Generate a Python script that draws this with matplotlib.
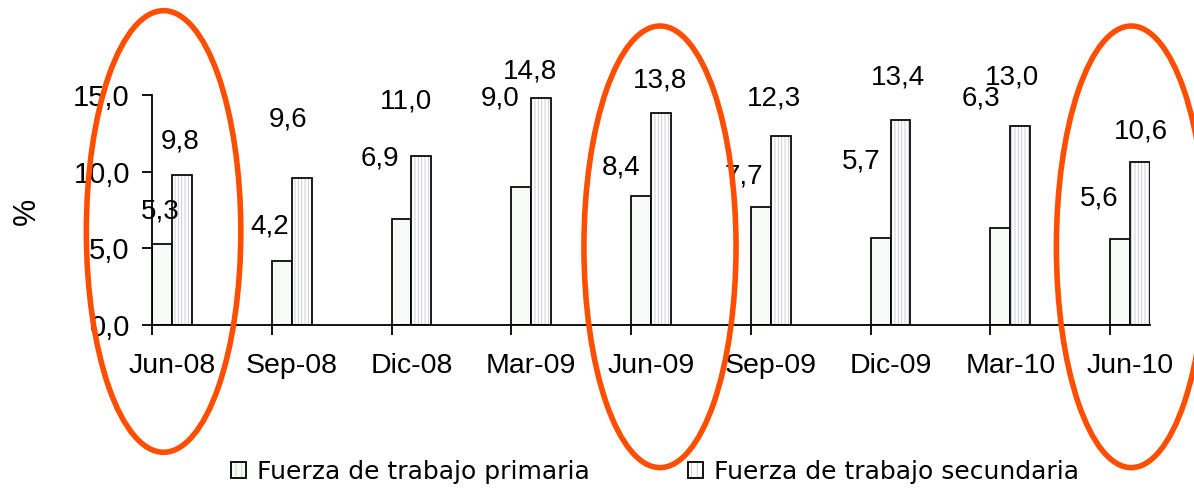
import matplotlib
matplotlib.use("Agg")
import matplotlib.pyplot as plt
from matplotlib.patches import Ellipse, Patch
import numpy as np

plt.rcParams['font.family'] = ['Liberation Sans', 'DejaVu Sans']
plt.rcParams['hatch.linewidth'] = 0.6

categories = ["Jun-08", "Sep-08", "Dic-08", "Mar-09", "Jun-09", "Sep-09", "Dic-09", "Mar-10", "Jun-10"]
primaria = [5.3, 4.2, 6.9, 9.0, 8.4, 7.7, 5.7, 6.3, 5.6]
secundaria = [9.8, 9.6, 11.0, 14.8, 13.8, 12.3, 13.4, 13.0, 10.6]
series_names = ["Fuerza de trabajo primaria", "Fuerza de trabajo secundaria"]
yticks = [0, 5, 10, 15]
highlight = ["Jun-08", "Jun-09", "Jun-10"]

# label placement (pixel offsets from bar top centre)
prim_dx = [-2, -12, -22, -21, -20, -17, -19, -19, -21]
prim_dy = [32, 34, 61, 89, 29, 30, 76, 130, 41]
sec_dx = [-2, -14, -15, -11, -1, -7, -3, -8, 1]
sec_dy = [33, 58, 55, 27, 33, 38, 42, 48, 31]

W, H = 1194, 491
fig = plt.figure(figsize=(W / 100, H / 100), dpi=100)
ax = fig.add_axes([152 / W, (H - 325) / H, (1150 - 152) / W, (325 - 95) / H])

x = np.arange(len(categories))
bw = 1 / 6
prim_face = '#f7faf7'
prim_hatch = '#c9dcb4'
sec_hatch = '#c4c4d6'
ax.bar(x - bw / 2, primaria, width=bw, color=prim_face, edgecolor='black', linewidth=1.25)
ax.bar(x + bw / 2, secundaria, width=bw, color='white', edgecolor=sec_hatch, hatch='|||||', linewidth=0)
ax.bar(x + bw / 2, secundaria, width=bw, color='none', edgecolor='black', linewidth=1.25)

px2pt = 0.72
fs_val = 20
for i in range(len(categories)):
    ax.annotate(f"{primaria[i]:.1f}".replace('.', ','), xy=(x[i] - bw / 2, primaria[i]),
                xytext=(prim_dx[i] * px2pt, prim_dy[i] * px2pt), textcoords='offset points',
                ha='center', va='center', fontsize=fs_val, annotation_clip=False)
    ax.annotate(f"{secundaria[i]:.1f}".replace('.', ','), xy=(x[i] + bw / 2, secundaria[i]),
                xytext=(sec_dx[i] * px2pt, sec_dy[i] * px2pt), textcoords='offset points',
                ha='center', va='center', fontsize=fs_val, annotation_clip=False)

ax.set_xlim(-bw, len(categories) - 1 + bw)
ax.set_ylim(0, 15)
ax.set_yticks(yticks)
ax.set_yticklabels([f"{v:.1f}".replace('.', ',') for v in yticks], fontsize=21)
ax.set_xticks(x - bw)
ax.set_xticklabels([])
ax.set_xticks(x, minor=True)
ax.set_xticklabels(categories, minor=True, fontsize=20.5)
ax.tick_params(axis='x', which='minor', length=0, pad=20)
ax.tick_params(axis='x', which='major', length=7, width=1.3, direction='out')
ax.tick_params(axis='y', length=7, width=1.3, direction='out', pad=9)
for s in ['top', 'right']:
    ax.spines[s].set_visible(False)
for s in ['left', 'bottom']:
    ax.spines[s].set_linewidth(1.3)

fig.text(27 / W, 1 - 211 / H, "%", rotation=90, ha='center', va='center', fontsize=22)

# highlight ellipses (data coordinates)
ell_dx = {"Jun-08": -0.07, "Jun-09": 0.075, "Jun-10": 0.01}
ell_yc = {"Jun-08": 6.1, "Jun-09": 5.1, "Jun-10": 5.1}
ell_w = {"Jun-08": 1.29, "Jun-09": 1.27, "Jun-10": 1.25}
for c in highlight:
    i = categories.index(c)
    e = Ellipse((x[i] + ell_dx[c], ell_yc[c]), width=ell_w[c], height=28.8,
                fill=False, edgecolor='#ff4e00', linewidth=4.0, clip_on=False, zorder=5)
    ax.add_patch(e)

handles = [(Patch(facecolor=prim_face, edgecolor=prim_hatch, linewidth=0, hatch='|||'),
            Patch(facecolor='none', edgecolor='black', linewidth=1.3)),
           (Patch(facecolor='white', edgecolor=sec_hatch, linewidth=0, hatch='|||'),
            Patch(facecolor='none', edgecolor='black', linewidth=1.3))]
leg = fig.legend(handles, series_names, loc='center left', bbox_to_anchor=(231 / W, 19 / H),
                 ncol=2, frameon=False, fontsize=18, handlelength=0.6, handleheight=0.6,
                 handletextpad=0.45, columnspacing=3.9, borderpad=0, borderaxespad=0)
for t in leg.get_texts():
    t.set_fontfamily('DejaVu Sans')

fig.savefig("out.png", dpi=100)
